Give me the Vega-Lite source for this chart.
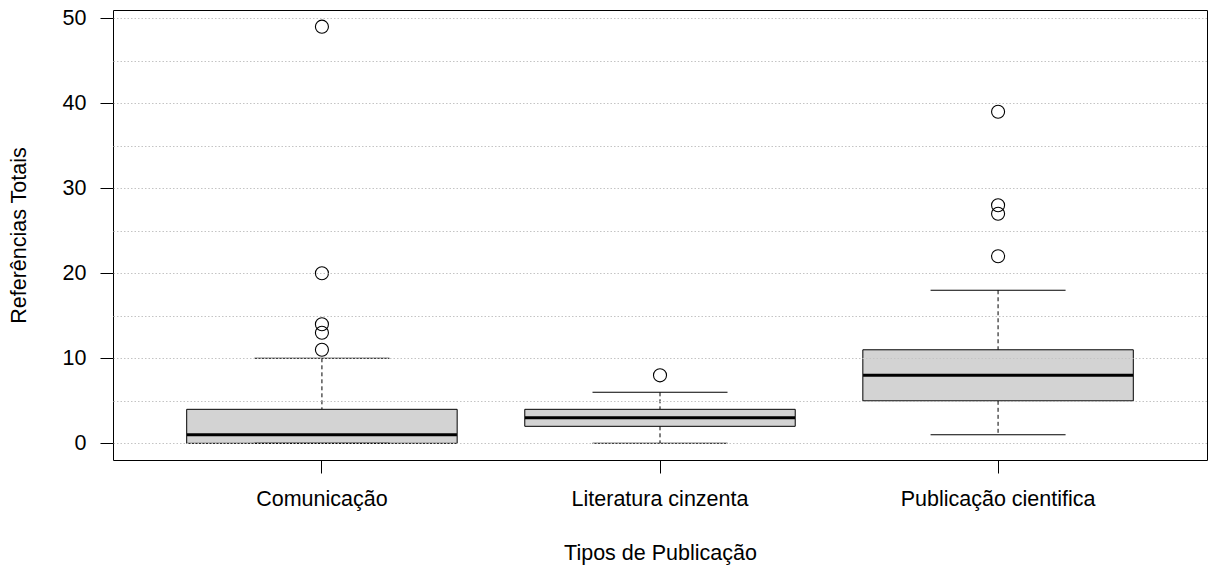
{
  "$schema": "https://vega.github.io/schema/vega-lite/v6.json",
  "width": 1094,
  "height": 450,
  "autosize": {"type": "none"},
  "padding": {"left": 113, "top": 10, "right": 1, "bottom": 109},
  "background": "white",
  "config": {
    "view": {"stroke": "black", "strokeWidth": 1},
    "font": "Liberation Sans"
  },
  "datasets": {
    "stats": [
      {"tipo": "Comunicação", "lower": 0, "q1": 0, "median": 1, "q3": 4, "upper": 10},
      {"tipo": "Literatura cinzenta", "lower": 0, "q1": 2, "median": 3, "q3": 4, "upper": 6},
      {"tipo": "Publicação cientifica", "lower": 1, "q1": 5, "median": 8, "q3": 11, "upper": 18}
    ],
    "outliers": [
      {"tipo": "Comunicação", "valor": 11},
      {"tipo": "Comunicação", "valor": 13},
      {"tipo": "Comunicação", "valor": 14},
      {"tipo": "Comunicação", "valor": 20},
      {"tipo": "Comunicação", "valor": 49},
      {"tipo": "Literatura cinzenta", "valor": 8},
      {"tipo": "Publicação cientifica", "valor": 22},
      {"tipo": "Publicação cientifica", "valor": 27},
      {"tipo": "Publicação cientifica", "valor": 28},
      {"tipo": "Publicação cientifica", "valor": 39}
    ]
  },
  "encoding": {
    "x": {
      "field": "tipo",
      "type": "nominal",
      "sort": ["Comunicação", "Literatura cinzenta", "Publicação cientifica"],
      "scale": {"type": "band", "paddingInner": 0, "paddingOuter": 0.118},
      "axis": {
        "title": "Tipos de Publicação",
        "labelAngle": 0,
        "labelFontSize": 21.5,
        "labelLimit": 0,
        "labelColor": "black",
        "labelPadding": 15,
        "tickSize": 13,
        "tickColor": "black",
        "domain": false,
        "grid": false,
        "titleFontSize": 21.5,
        "titleFontWeight": "normal",
        "titleColor": "black",
        "titlePadding": 33
      }
    }
  },
  "layer": [
    {
      "data": {"name": "stats"},
      "mark": {"type": "rule", "color": "black", "strokeDash": [4, 3], "strokeWidth": 1, "opacity": 1},
      "encoding": {
        "y": {
          "field": "upper",
          "type": "quantitative",
          "scale": {"domain": [-1.96, 50.96], "nice": false, "zero": false},
          "axis": {
            "title": "Referências Totais",
            "values": [0, 5, 10, 15, 20, 25, 30, 35, 40, 45, 50],
            "labelExpr": "datum.value % 10 == 0 ? datum.label : ''",
            "labelFontSize": 21.5,
            "labelColor": "black",
            "labelPadding": 14,
            "tickSize": 13,
            "tickColor": "black",
            "tickOpacity": {"condition": {"test": "datum.value % 10 == 0", "value": 1}, "value": 0},
            "domain": false,
            "grid": true,
            "gridColor": "#c4c4c4",
            "gridDash": [1.5, 2],
            "gridWidth": 1,
            "zindex": 1,
            "titleFontSize": 21.5,
            "titleFontWeight": "normal",
            "titleColor": "black",
            "titlePadding": 32
          }
        },
        "y2": {"field": "q3"}
      }
    },
    {
      "data": {"name": "stats"},
      "mark": {"type": "rule", "color": "black", "strokeDash": [4, 3], "strokeWidth": 1, "opacity": 1},
      "encoding": {
        "y": {"field": "q1", "type": "quantitative"},
        "y2": {"field": "lower"}
      }
    },
    {
      "data": {"name": "stats"},
      "mark": {"type": "bar", "fill": "#d3d3d3", "stroke": "black", "strokeWidth": 1, "opacity": 1, "width": {"band": 0.8}},
      "encoding": {
        "y": {"field": "q1", "type": "quantitative"},
        "y2": {"field": "q3"}
      }
    },
    {
      "data": {"name": "stats"},
      "mark": {"type": "tick", "color": "black", "opacity": 1, "size": 135, "thickness": 1, "orient": "horizontal"},
      "encoding": {
        "y": {"field": "upper", "type": "quantitative"}
      }
    },
    {
      "data": {"name": "stats"},
      "mark": {"type": "tick", "color": "black", "opacity": 1, "size": 135, "thickness": 1, "orient": "horizontal"},
      "encoding": {
        "y": {"field": "lower", "type": "quantitative"}
      }
    },
    {
      "data": {"name": "stats"},
      "mark": {"type": "tick", "color": "black", "opacity": 1, "size": 270, "thickness": 3, "orient": "horizontal"},
      "encoding": {
        "y": {"field": "median", "type": "quantitative"}
      }
    },
    {
      "data": {"name": "outliers"},
      "mark": {"type": "point", "shape": "circle", "filled": false, "stroke": "black", "strokeWidth": 1.1, "size": 170, "opacity": 1},
      "encoding": {
        "y": {"field": "valor", "type": "quantitative"}
      }
    }
  ]
}
